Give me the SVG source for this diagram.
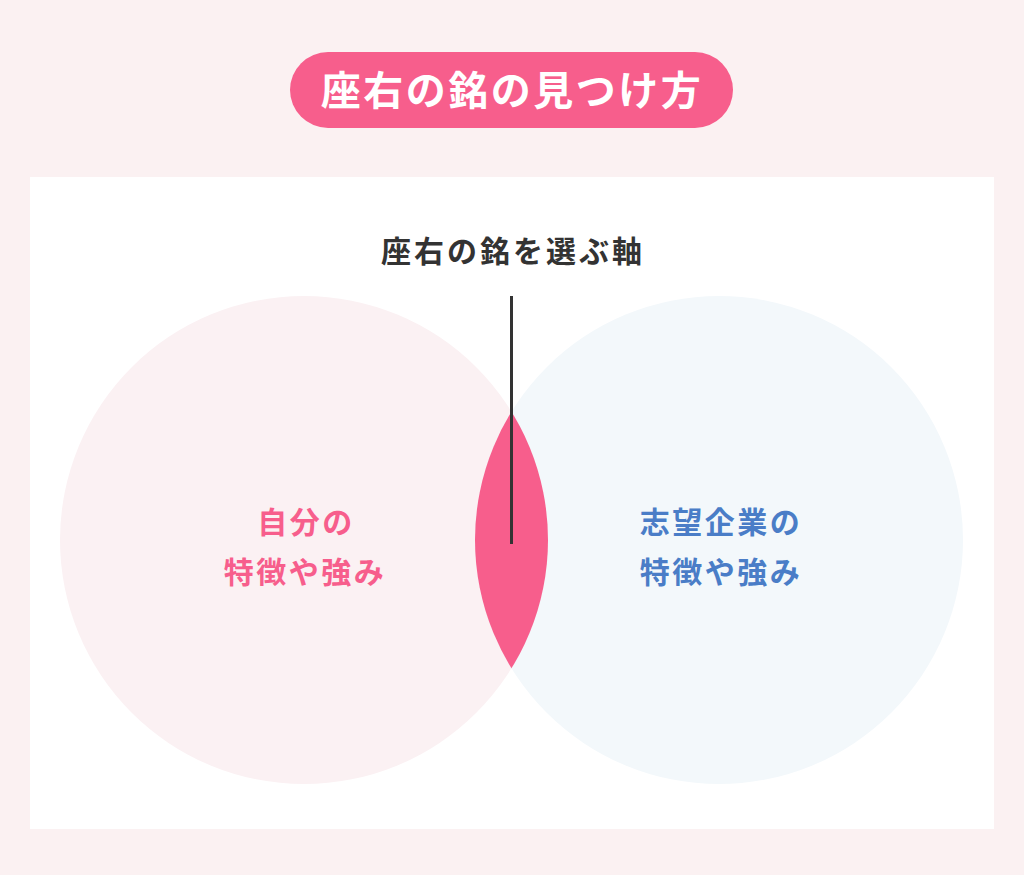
<svg xmlns="http://www.w3.org/2000/svg" width="1024" height="875" viewBox="0 0 1024 875">
<defs>
<style>
.t{font-family:"Noto Sans CJK JP","Noto Sans CJK SC",sans-serif;font-weight:700;text-anchor:middle}
</style>
<clipPath id="lc"><circle cx="304" cy="540" r="244"/></clipPath>
</defs>
<rect width="1024" height="875" fill="#FBF1F2"/>
<rect x="30" y="177" width="964" height="652" fill="#FFFFFF"/>
<g id="title">
<rect x="290" y="52" width="443" height="76" rx="38" fill="#F75E8C"/>
<text class="t" x="512" y="105" font-size="40" letter-spacing="2.5" fill="#FFFFFF">座右の銘の見つけ方</text>
</g>
<g id="left-circle">
<circle cx="304" cy="540" r="244" fill="#FBF1F3"/>
</g>
<g id="right-circle">
<circle cx="719" cy="540" r="244" fill="#F3F8FB"/>
</g>
<g id="overlap">
<circle cx="719" cy="540" r="244" fill="#F75E8C" clip-path="url(#lc)"/>
</g>
<g id="left-label">
<text class="t" x="306" y="533" font-size="30" letter-spacing="2.5" fill="#F75E8C">自分の</text>
<text class="t" x="305" y="583" font-size="30" letter-spacing="2.5" fill="#F75E8C">特徴や強み</text>
</g>
<g id="right-label">
<text class="t" x="721" y="533" font-size="30" letter-spacing="2.5" fill="#4A7DC7">志望企業の</text>
<text class="t" x="721" y="583" font-size="30" letter-spacing="2.5" fill="#4A7DC7">特徴や強み</text>
</g>
<g id="axis-label">
<text class="t" x="513" y="262" font-size="30" letter-spacing="3" fill="#333333">座右の銘を選ぶ軸</text>
</g>
<g id="connectors">
<line x1="511.5" y1="296" x2="511.5" y2="544" stroke="#333333" stroke-width="3"/>
</g>
</svg>
